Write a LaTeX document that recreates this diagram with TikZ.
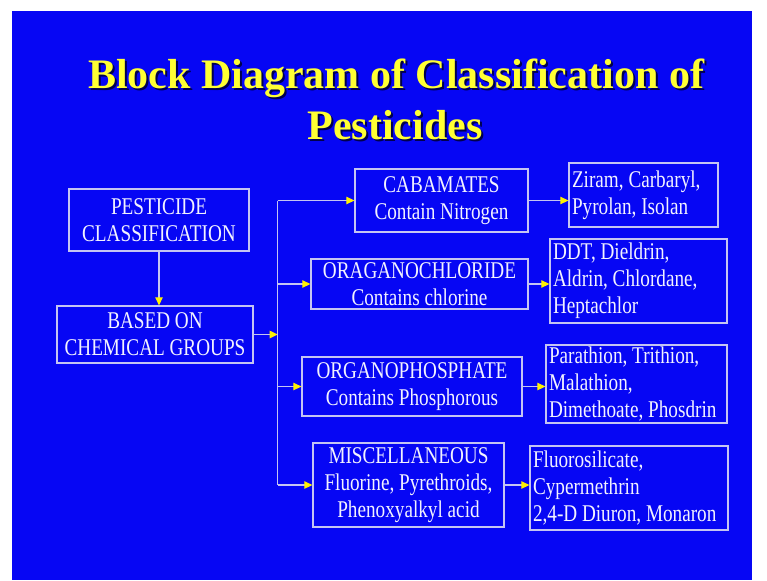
\documentclass[tikz,border=0pt]{standalone}
\usepackage{fontspec}
\setmainfont{Liberation Serif}
\newfontfamily\slimserif{Liberation Serif}[FakeStretch=0.8]
\usepackage{tikz}
\usetikzlibrary{positioning,arrows.meta,calc}
\definecolor{slide}{HTML}{0606F4}
\definecolor{ttlyel}{HTML}{FFFF33}
\definecolor{rim}{HTML}{C4C4F2}
\definecolor{txt}{HTML}{F2F2FF}
\tikzset{
  blk/.style   ={draw=rim, line width=1.3pt, text=txt, inner xsep=3pt, inner ysep=1pt,
                 font=\slimserif\fontsize{24}{27}\selectfont},
  cblk/.style  ={blk, align=center},
  lblk/.style  ={blk, align=flush left},
  link/.style  ={draw=rim, line width=1.2pt, -{Triangle[length=8pt,width=7.5pt,color=yellow]}},
  trunk/.style ={draw=rim, line width=1.2pt},
  ttl/.style   ={font=\bfseries\fontsize{42}{51}\selectfont, text=ttlyel, anchor=base, inner sep=0pt},
  ttlshade/.style={ttl, text=black!70!blue},
}
\begin{document}
\frenchspacing
\begin{tikzpicture}[x=1pt,y=-1pt]
  \useasboundingbox (0,0) rectangle (767,580);
  \fill[slide] (12,11) rectangle (752,580);
  % title
  \node[ttlshade] (t1s) at (398,91) {Block Diagram of Classification of};
  \node[ttlshade] (t2s) at (397,142) {Pesticides};
  \node[ttl] (t1) at (396,89) {Block Diagram of Classification of};
  \node[ttl] (t2) at (395,140) {Pesticides};
  % left column
  \node[cblk, minimum width=180pt, minimum height=62pt] (pc) at (159,220) {PESTICIDE\\CLASSIFICATION};
  \node[cblk, minimum width=196pt, minimum height=57pt] (bcg) at (155,334.5) {BASED ON\\CHEMICAL GROUPS};
  % groups
  \node[cblk, minimum width=173pt, minimum height=63pt] (carb) at (441.5,200.5) {CABAMATES\\Contain Nitrogen};
  \node[cblk, minimum width=217pt, minimum height=50pt] (ochl) at (419.5,284) {ORAGANOCHLORIDE\\Contains chlorine};
  \node[cblk, minimum width=220pt, minimum height=59pt] (ophos) at (412,386.5) {ORGANOPHOSPHATE\\Contains Phosphorous};
  \node[cblk, minimum width=191pt, minimum height=84pt] (misc) at (408.5,485) {MISCELLANEOUS\\Fluorine, Pyrethroids,\\Phenoxyalkyl acid};
  % examples
  \node[lblk, text width=143pt, minimum height=64pt] (carbx) at (643.5,195) {Ziram, Carbaryl,\\Pyrolan, Isolan};
  \node[lblk, text width=171pt, minimum height=84pt] (ochlx) at (638.5,281) {DDT, Dieldrin,\\Aldrin, Chlordane,\\Heptachlor};
  \node[lblk, text width=175pt, minimum height=78pt] (ophosx) at (636.5,384) {Parathion, Trithion,\\Malathion,\\Dimethoate, Phosdrin};
  \node[lblk, text width=192pt, minimum height=84pt] (miscx) at (629,488) {Fluorosilicate,\\Cypermethrin\\2,4-D Diuron, Monaron};
  % connectors
  \coordinate (hub) at ($(bcg.east)+(24,0)$);
  \draw[link] (pc.south) -- (pc.south |- bcg.north);
  \draw[link] (bcg) -- (hub);
  \draw[trunk] (hub |- carb) -- (hub |- misc);
  \foreach \g in {carb,ochl,ophos,misc}
    \draw[link] (hub |- \g) -- (\g);
  \draw[link] (carb) -- (carb -| carbx.west);
  \draw[link] (ochl) -- (ochl -| ochlx.west);
  \draw[link] (ophos) -- (ophos -| ophosx.west);
  \draw[link] (misc) -- (misc -| miscx.west);
\end{tikzpicture}
\end{document}
